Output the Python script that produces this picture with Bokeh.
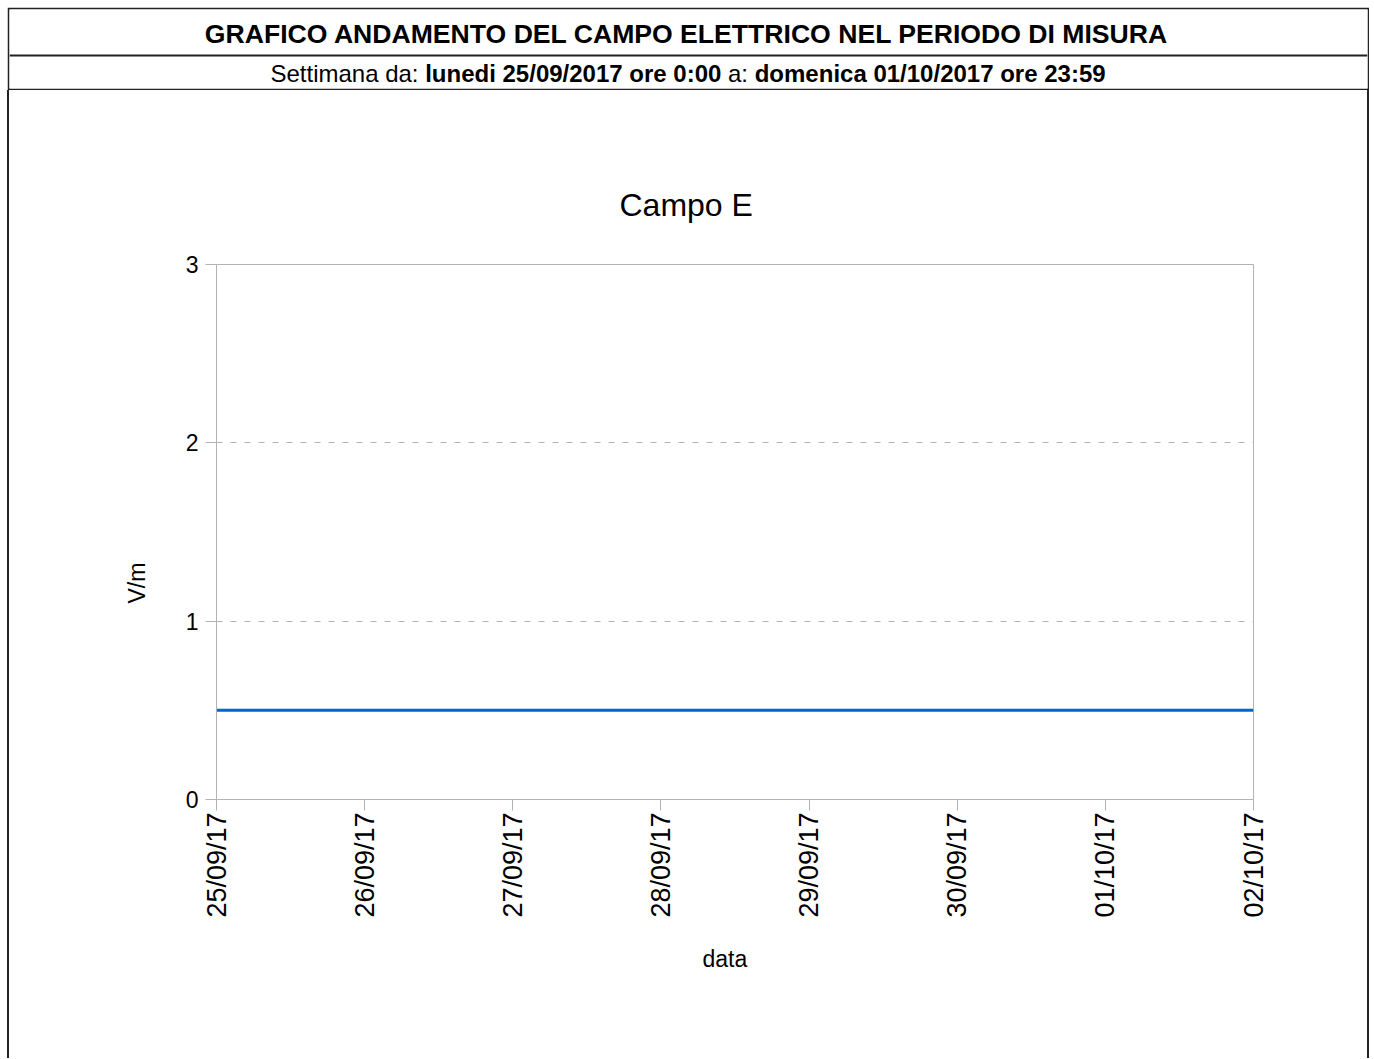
import math
from datetime import datetime

from bokeh.plotting import figure
from bokeh.models import (FixedTicker, DatetimeTickFormatter, Range1d, ColumnDataSource,
                          Span, Title, Spacer)
from bokeh.layouts import column, row
from bokeh.core.properties import value
from bokeh.embed import file_html
from bokeh.resources import INLINE

# ---------------- data ----------------
header_title = "GRAFICO ANDAMENTO DEL CAMPO ELETTRICO NEL PERIODO DI MISURA"
sub_parts = ["Settimana da:", "lunedi 25/09/2017 ore 0:00", "a:", "domenica 01/10/2017 ore 23:59"]
sub_styles = ["normal", "bold", "normal", "bold"]
chart_title = "Campo E"
y_label = "V/m"
x_label = "data"

times = ["2017-09-25 00:00", "2017-09-26 00:00", "2017-09-27 00:00", "2017-09-28 00:00",
         "2017-09-29 00:00", "2017-09-30 00:00", "2017-10-01 00:00", "2017-10-01 23:59"]
campo_e = [0.5, 0.5, 0.5, 0.5, 0.5, 0.5, 0.5, 0.5]

day_ticks = ["2017-09-25", "2017-09-26", "2017-09-27", "2017-09-28",
             "2017-09-29", "2017-09-30", "2017-10-01", "2017-10-02"]
y_ticks = [0, 1, 2, 3]
x_start, x_end = "2017-09-25", "2017-10-02"
y_start, y_end = 0, 3

# ---------------- helpers ----------------
FONT = "Liberation Sans"
BORDER = "#222222"
W_TOTAL = 1362
W_IN = W_TOTAL - 4
MAIN_H = 968

# Arial / Liberation Sans advance widths (per 1000 em) for laying out the header line
REG = {" ": 278, "S": 667, "e": 556, "t": 278, "i": 222, "m": 833, "a": 556, "n": 556,
       "d": 556, ":": 278}
BOLD = {" ": 278, "l": 278, "u": 611, "n": 611, "e": 556, "d": 611, "i": 278, "/": 278,
        "o": 611, "r": 389, ":": 333, "m": 889, "c": 556, "a": 556}
for ch in "0123456789":
    BOLD[ch] = 556


def text_width(s, style, size):
    table = BOLD if style == "bold" else REG
    return sum(table.get(c, 556) for c in s) / 1000.0 * size


to_dt = lambda s: datetime.strptime(s, "%Y-%m-%d %H:%M") if " " in s else datetime.strptime(s, "%Y-%m-%d")
to_ms = lambda d: (d - datetime(1970, 1, 1)).total_seconds() * 1000.0

# ---------------- header figure ----------------
H_IN = 79
head = figure(width=W_TOTAL, height=H_IN + 4, output_backend="svg", toolbar_location=None,
              x_range=Range1d(0, W_IN), y_range=Range1d(0, H_IN),
              x_axis_location=None, y_axis_location=None,
              min_border_left=2, min_border_right=2, min_border_top=2, min_border_bottom=2)
head.border_fill_color = BORDER
head.background_fill_color = "white"
head.outline_line_color = None
head.grid.visible = False
head.add_layout(Span(location=33, dimension="width", line_color=BORDER, line_width=2))

TITLE_SIZE = 26.6
head.text(x=[677.5], y=[55], text=[header_title], text_align="center",
          text_baseline="alphabetic", text_font=value(FONT),
          text_font_size=f"{TITLE_SIZE}px", text_font_style="bold", text_color="black")

SUB_SIZE = 24
space_w = text_width(" ", "normal", SUB_SIZE)
widths = [text_width(s, st, SUB_SIZE) for s, st in zip(sub_parts, sub_styles)]
total = sum(widths) + space_w * (len(widths) - 1)
cur = 678.5 - total / 2.0
xs = []
for w in widths:
    xs.append(cur)
    cur += w + space_w
sub_src = ColumnDataSource(dict(x=xs, y=[15.5] * len(xs), text=sub_parts, style=sub_styles))
head.text(x="x", y="y", text="text", source=sub_src, text_align="left",
          text_baseline="alphabetic", text_font=value(FONT),
          text_font_size=f"{SUB_SIZE}px", text_font_style="style", text_color="black")

# ---------------- main chart ----------------
src = ColumnDataSource(dict(x=[to_dt(t) for t in times], y=campo_e))

p = figure(width=W_IN, height=MAIN_H, output_backend="svg", toolbar_location=None,
           x_axis_type="datetime",
           x_range=Range1d(to_dt(x_start), to_dt(x_end)),
           y_range=Range1d(y_start, y_end),
           min_border_left=207, min_border_right=114,
           min_border_top=174, min_border_bottom=MAIN_H - (799 - 90))
p.background_fill_color = "white"
p.border_fill_color = "white"
p.outline_line_color = "#b3b3b3"
p.outline_line_width = 1

p.line("x", "y", source=src, line_color="#0066cc", line_width=3)

p.xaxis.ticker = FixedTicker(ticks=[to_ms(to_dt(d)) for d in day_ticks])
fmt = "%d/%m/%y"
p.xaxis.formatter = DatetimeTickFormatter(milliseconds=fmt, seconds=fmt, minsec=fmt,
                                          minutes=fmt, hourmin=fmt, hours=fmt,
                                          days=fmt, months=fmt, years=fmt)
p.yaxis.ticker = FixedTicker(ticks=y_ticks)

for ax in (p.xaxis[0], p.yaxis[0]):
    ax.axis_line_color = "#b3b3b3"
    ax.major_tick_line_color = "#b3b3b3"
    ax.minor_tick_line_color = None
    ax.major_tick_out = 11
    ax.major_tick_in = 0
    ax.major_label_text_font = FONT
    ax.major_label_text_color = "black"

p.xaxis.major_label_orientation = math.pi / 2
p.xaxis.major_label_text_font_size = "27px"
p.xaxis.major_label_standoff = 2
p.yaxis.major_label_text_font_size = "23px"
p.yaxis.major_label_standoff = 7

p.xgrid.visible = False
p.ygrid.grid_line_color = "#b3b3b3"
p.ygrid.grid_line_dash = "6 8"
p.ygrid.grid_line_width = 1

# chart title
p.title.text = chart_title
p.title.align = "left"
p.title.offset = 403
p.title.standoff = 84
p.title.text_font = FONT
p.title.text_font_size = "32px"
p.title.text_font_style = "normal"
p.title.text_color = "black"

# axis titles
p.add_layout(Title(text=y_label, align="left", offset=196, standoff=66,
                   vertical_align="bottom", text_font=FONT, text_font_size="23px",
                   text_font_style="normal", text_color="black"), "left")
p.add_layout(Title(text=x_label, align="left", offset=486, standoff=50,
                   vertical_align="top", text_font=FONT, text_font_size="23px",
                   text_font_style="normal", text_color="black"), "below")


def bar():
    return Spacer(width=2, height=MAIN_H, styles={"background-color": BORDER})


body = column(head, row(bar(), p, bar(), spacing=0), spacing=0)
layout = row(Spacer(width=7, height=10), column(Spacer(width=10, height=7), body, spacing=0),
             spacing=0)

open("out.html", "w").write(file_html(layout, INLINE))
